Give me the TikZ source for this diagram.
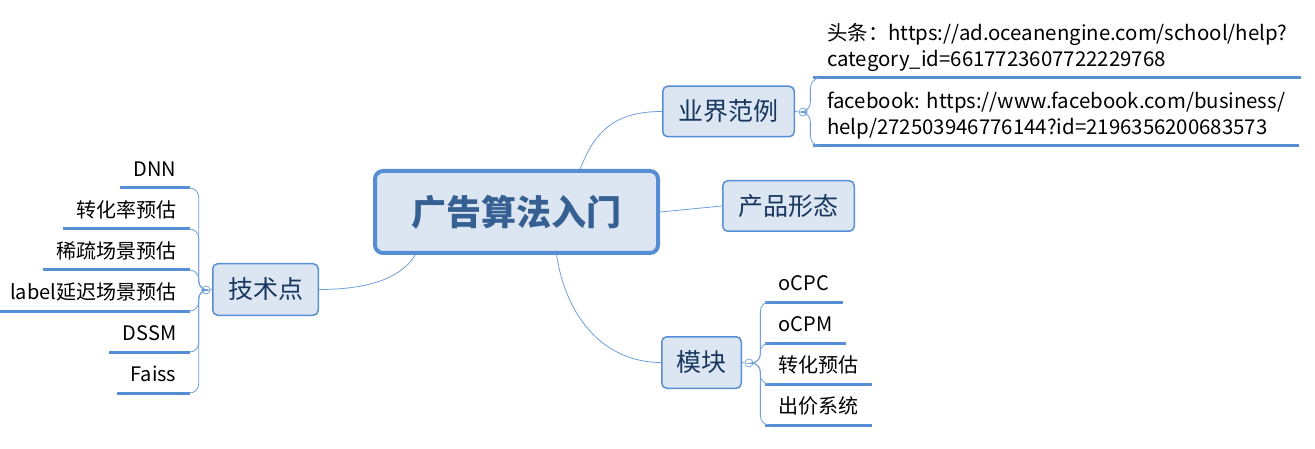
\documentclass[tikz,border=0pt]{standalone}
\usepackage{fontspec}
\newfontfamily\cjk{Noto Sans CJK SC}
\usetikzlibrary{calc}
\definecolor{bfill}{HTML}{DCE6F2}
\definecolor{bline}{HTML}{558ED5}
\definecolor{cline}{HTML}{6F9FD8}
\definecolor{btext}{HTML}{17375E}
\definecolor{ctext}{HTML}{376092}
\tikzset{
  topic/.style={draw=bline, line width=1.5pt, fill=bfill, rounded corners=5pt,
    font=\cjk\fontsize{25}{30}\selectfont, text=btext, inner sep=0pt},
  central/.style={draw=bline, line width=4pt, fill=bfill, rounded corners=8pt,
    font=\cjk\bfseries\fontsize{35}{40}\selectfont, text=ctext, inner sep=0pt,
    minimum width=283pt, minimum height=82pt},
  conn/.style={draw=cline, line width=0.8pt},
  uline/.style={draw=bline, line width=3pt},
  fold/.style={circle, draw=cline, fill=white, minimum size=8pt, inner sep=0pt, line width=0.7pt,
    path picture={\draw[cline,line width=0.6pt]
      ([xshift=-2.5pt]path picture bounding box.center) -- ([xshift=2.5pt]path picture bounding box.center);}},
  leaf/.style={font=\cjk\fontsize{20}{25}\selectfont, inner ysep=0pt, inner xsep=13.5pt, text depth=11pt},
  url/.style={font=\cjk\fontsize{20.4}{26}\selectfont, inner ysep=0pt, inner xsep=14pt, text depth=11pt,
    align=left, anchor=south west},
}
\begin{document}
\begin{tikzpicture}[x=1pt,y=-1pt]
\useasboundingbox (0,0) rectangle (1315,449);

% central topic
\node[central] (c) at (516.5,212) {广告算法入门};

% main topics
\node[topic, minimum width=131.5pt, minimum height=50.5pt] (y) at (728.5,111.5) {业界范例};
\node[topic, minimum width=131.5pt, minimum height=50.5pt] (p) at (788.5,206) {产品形态};
\node[topic, minimum width=105.5pt, minimum height=51.5pt] (t) at (265.5,289.5) {技术点};
\node[topic, minimum width=79.5pt, minimum height=51.5pt] (m) at (701.5,362.5) {模块};

% main connectors
\draw[conn] (c.34) .. controls +(15,-40) and +(-45,0) .. (y.west);
\draw[conn] (c.east) -- (p.west);
\draw[conn] (c.203) .. controls +(-15,25) and +(45,0) .. (t.east);
\draw[conn] (c.-47) .. controls +(10,65) and +(-55,0) .. (m.west);

% fold markers
\node[fold] (f1) at (803,112) {};
\node[fold] (f2) at (206,290) {};
\node[fold] (f3) at (749,363) {};
\draw[conn] (y.east) -- (f1.west);
\draw[conn] (t.west) -- (f2.east);
\draw[conn] (m.east) -- (f3.west);

% 业界范例 children
\node[url] (u1) at (813,78) {头条：https://ad.oceanengine.com/school/help?\\category\_id=6617723607722229768};
\node[url] (u2) at (813,146) {facebook: https://www.facebook.com/business/\\help/272503946776144?id=2196356200683573};
\foreach \n in {u1,u2}{
  \draw[uline] (\n.south west) -- (\n.south east);
  \draw[conn, rounded corners=10pt] (f1.east) -- ++(3,0) |- (\n.south west);
}

% 技术点 children
\node[leaf, anchor=south east] (a1) at (190,188) {DNN};
\node[leaf, anchor=south east] (a2) at (190,229) {转化率预估};
\node[leaf, anchor=south east] (a3) at (190,270) {稀疏场景预估};
\node[leaf, anchor=south east] (a4) at (190,311) {label延迟场景预估};
\node[leaf, anchor=south east] (a5) at (190,352) {DSSM};
\node[leaf, anchor=south east] (a6) at (190,393) {Faiss};
\foreach \n in {a1,a2,a3,a4,a5,a6}{
  \draw[uline] (\n.south west) -- (\n.south east);
  \draw[conn, rounded corners=9pt] (f2.west) -- ++(-3,0) |- (\n.south east);
}

% 模块 children
\node[leaf, anchor=south west] (b1) at (765,302) {oCPC};
\node[leaf, anchor=south west] (b2) at (765,343) {oCPM};
\node[leaf, anchor=south west] (b3) at (765,384) {转化预估};
\node[leaf, anchor=south west] (b4) at (765,425) {出价系统};
\foreach \n in {b1,b2,b3,b4}{
  \draw[uline] (\n.south west) -- (\n.south east);
  \draw[conn, rounded corners=9pt] (f3.east) -- ++(7,0) |- (\n.south west);
}
\end{tikzpicture}
\end{document}
